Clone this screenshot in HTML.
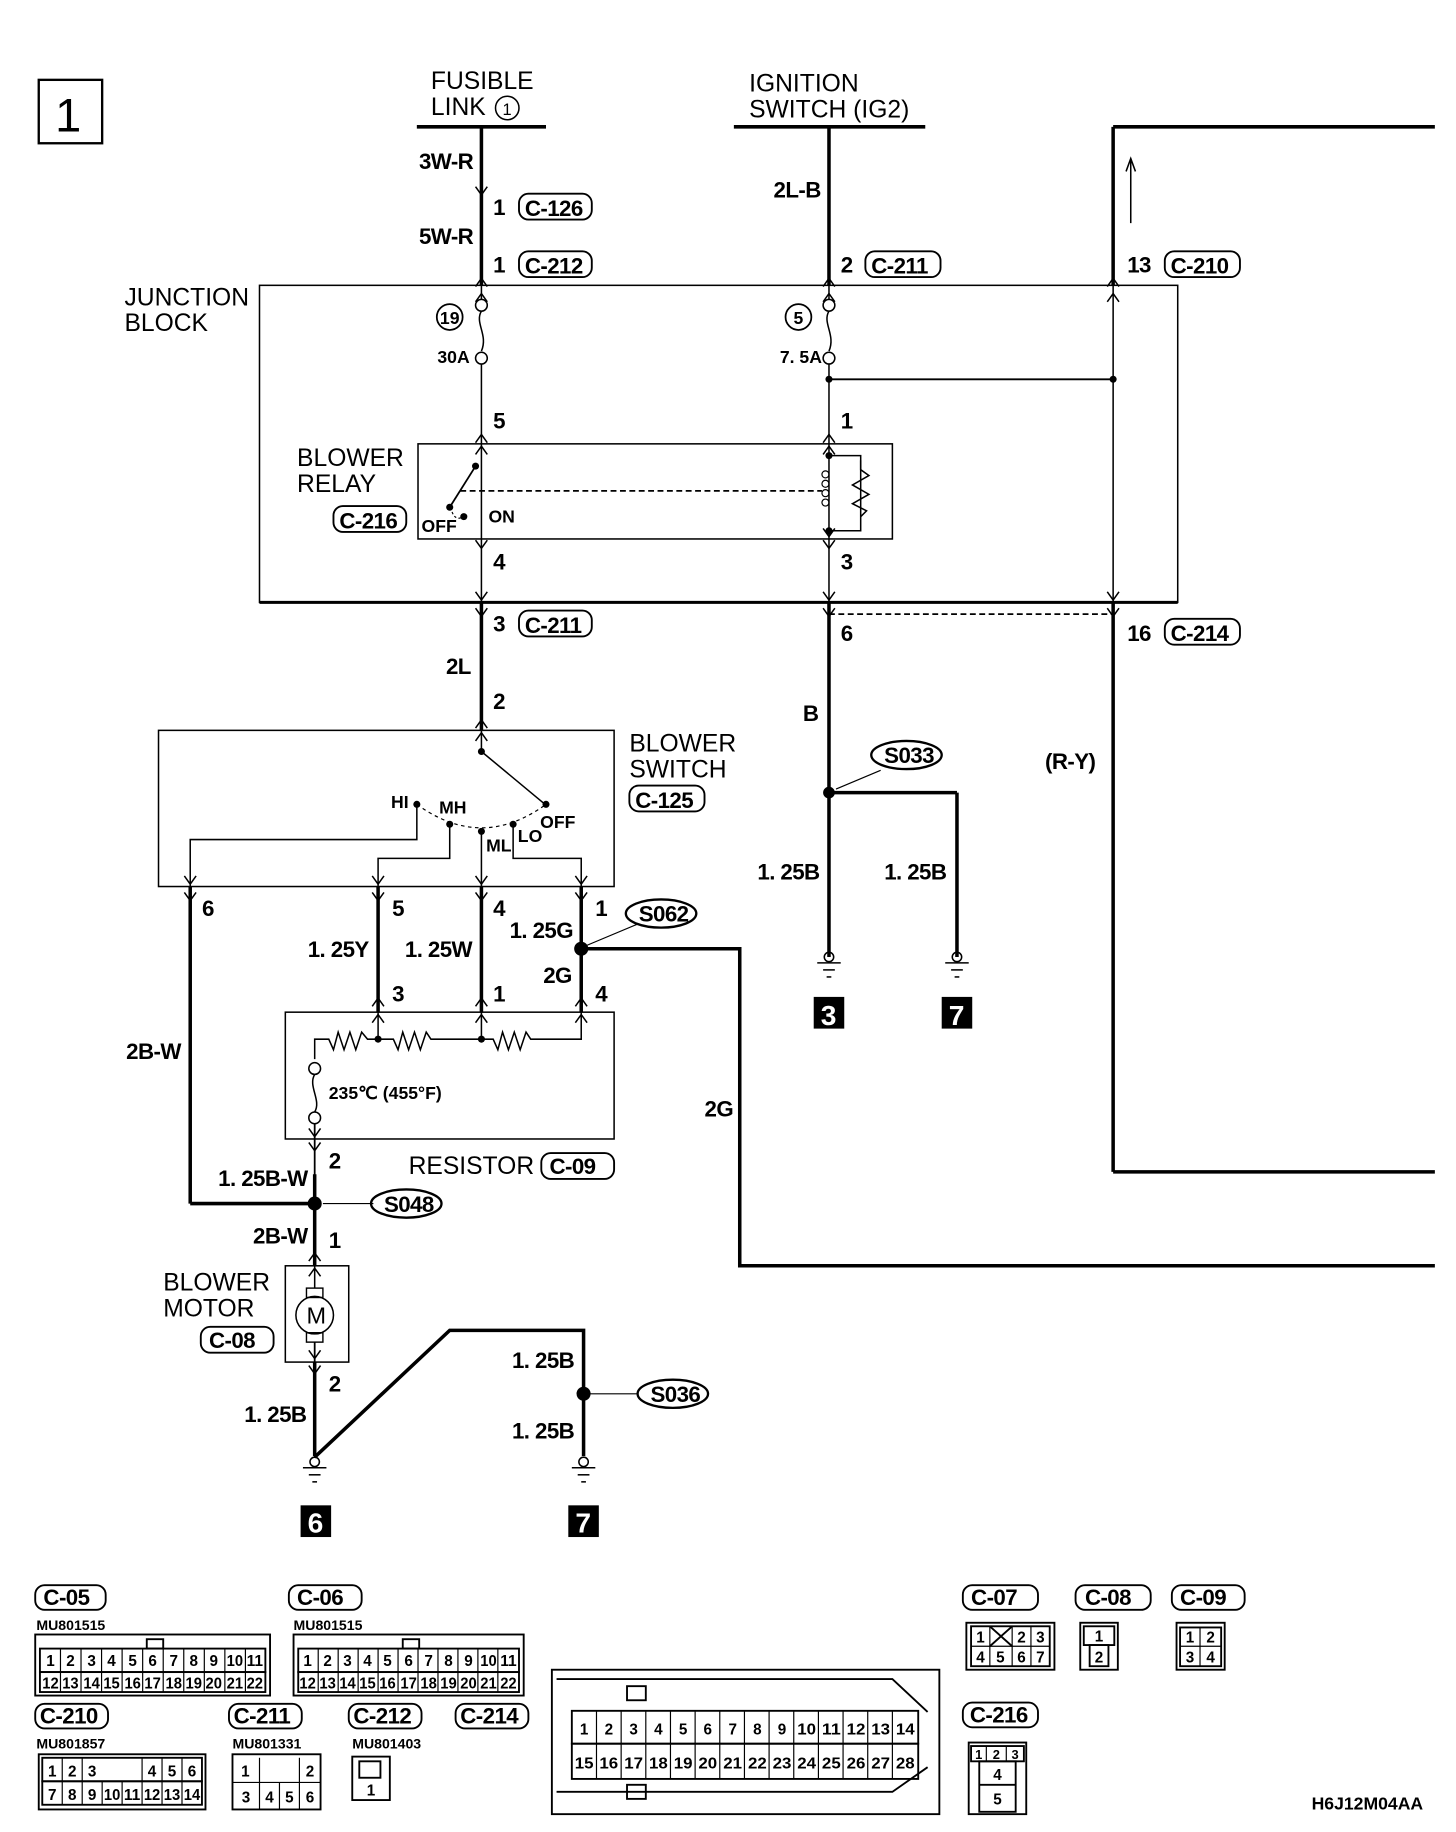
<!DOCTYPE html>
<html><head><meta charset="utf-8">
<style>
html,body{margin:0;padding:0;background:#fff;}
svg{display:block;}
text{font-family:"Liberation Sans Narrow","Liberation Sans",sans-serif;fill:#000;}
.b{font-weight:bold;font-size:19px;letter-spacing:-0.5px;}
.n{font-size:21px;}
.s{font-weight:bold;font-size:12px;}
.k{font-weight:bold;font-size:13px;text-anchor:middle;}
.c{font-weight:bold;font-size:15px;}
.e{text-anchor:end;}
</style></head><body>
<svg width="1456" height="1832" viewBox="0 0 1240 1560.2" preserveAspectRatio="none" xmlns="http://www.w3.org/2000/svg">
<defs>
<path id="dn" d="M-5,-7 L0,0 L5,-7" fill="none" stroke="#000" stroke-width="1.3"/>
<path id="up" d="M-5,7 L0,0 L5,7" fill="none" stroke="#000" stroke-width="1.3"/>
</defs>
<g fill="none" stroke="#000">
<rect x="33" y="68" width="54" height="54" stroke-width="2"/>
<line x1="355" y1="108" x2="465" y2="108" stroke-width="3"/>
<line x1="625" y1="108" x2="788" y2="108" stroke-width="3"/>
<line x1="948" y1="108" x2="1222" y2="108" stroke-width="3"/>
<line x1="410" y1="108" x2="410" y2="243" stroke-width="3"/>
<line x1="410" y1="243" x2="410" y2="255" stroke-width="1.3"/>
<path d="M410,265 C404,275 416,285 410,299" stroke-width="1.3"/>
<line x1="410" y1="310" x2="410" y2="513" stroke-width="1.3"/>
<circle cx="410" cy="260" r="5" stroke-width="1.3"/>
<circle cx="410" cy="305" r="5" stroke-width="1.3"/>
<circle cx="383" cy="270" r="11" stroke-width="1.5"/>
<line x1="706" y1="108" x2="706" y2="243" stroke-width="3"/>
<line x1="706" y1="243" x2="706" y2="255" stroke-width="1.3"/>
<path d="M706,265 C700,275 712,285 706,299" stroke-width="1.3"/>
<line x1="706" y1="310" x2="706" y2="513" stroke-width="1.3"/>
<circle cx="706" cy="260" r="5" stroke-width="1.3"/>
<circle cx="706" cy="305" r="5" stroke-width="1.3"/>
<circle cx="680" cy="270" r="11" stroke-width="1.5"/>
<line x1="706" y1="323" x2="948" y2="323" stroke-width="1.6"/>
<line x1="948" y1="108" x2="948" y2="243" stroke-width="3"/>
<line x1="948" y1="243" x2="948" y2="513" stroke-width="1.3"/>
<line x1="948" y1="513" x2="948" y2="998" stroke-width="3"/>
<line x1="948" y1="998" x2="1222" y2="998" stroke-width="3"/>
<line x1="963" y1="190" x2="963" y2="135" stroke-width="1.3"/>
<path d="M959,146 L963,135 L967,146" stroke-width="1.3"/>
<rect x="221" y="243" width="782" height="270" stroke-width="1.3"/>
<line x1="221" y1="513" x2="1003" y2="513" stroke-width="2.5"/>
<rect x="356" y="378" width="404" height="81" stroke-width="1.3"/>
<line x1="405" y1="397" x2="383" y2="432" stroke-width="1.5"/>
<path d="M385,436 Q388,444 395,440" stroke-width="1" stroke-dasharray="2,2"/>
<line x1="392" y1="418" x2="700" y2="418" stroke-width="1.5" stroke-dasharray="5,3"/>
<path d="M706,388 L733,388 L733,452 L706,452" stroke-width="1.3"/>
<path d="M733,392 L733,400 L740,405 L726,413 L740,421 L726,429 L738,435 L733,440" stroke-width="1.3"/>
<circle cx="703" cy="404" r="3" stroke-width="1"/>
<circle cx="703" cy="412" r="3" stroke-width="1"/>
<circle cx="703" cy="420" r="3" stroke-width="1"/>
<circle cx="703" cy="428" r="3" stroke-width="1"/>
<line x1="706" y1="513" x2="706" y2="815" stroke-width="3"/>
<line x1="706" y1="523" x2="948" y2="523" stroke-width="1.5" stroke-dasharray="5,3"/>
<line x1="706" y1="675" x2="815" y2="675" stroke-width="3"/>
<line x1="815" y1="675" x2="815" y2="815" stroke-width="3"/>
<line x1="750" y1="656" x2="712" y2="672" stroke-width="1"/>
<line x1="410" y1="513" x2="410" y2="622" stroke-width="3"/>
<rect x="135" y="622" width="388" height="133" stroke-width="1.3"/>
<line x1="410" y1="622" x2="410" y2="640" stroke-width="1.3"/>
<line x1="410" y1="640" x2="463" y2="684" stroke-width="1.3"/>
<path d="M355,685 Q410,725 465,685" stroke-width="1" stroke-dasharray="3,3"/>
<path d="M355,685 L355,715 L162,715 L162,755" stroke-width="1.3"/>
<path d="M383,702 L383,731 L322,731 L322,755" stroke-width="1.3"/>
<path d="M410,708 L410,755" stroke-width="1.3"/>
<path d="M437,702 L437,731 L495,731 L495,755" stroke-width="1.3"/>
<line x1="162" y1="755" x2="162" y2="1025" stroke-width="3"/>
<line x1="162" y1="1025" x2="268" y2="1025" stroke-width="3"/>
<line x1="322" y1="755" x2="322" y2="862" stroke-width="3"/>
<line x1="410" y1="755" x2="410" y2="862" stroke-width="3"/>
<line x1="495" y1="755" x2="495" y2="862" stroke-width="3"/>
<path d="M495,808 L630,808 L630,1078 L1222,1078" stroke-width="3"/>
<line x1="543" y1="787" x2="500" y2="805" stroke-width="1"/>
<rect x="243" y="862" width="280" height="108" stroke-width="1.3"/>
<path d="M268,902 L268,885 L280,885 L284,894 L288,879 L293,894 L298,879 L303,894 L308,879 L313,885 L335,885 L339,894 L343,879 L348,894 L353,879 L358,894 L363,879 L367,885 L420,885 L424,894 L428,879 L433,894 L438,879 L443,894 L448,879 L452,885 L495,885 L495,862" stroke-width="1.3"/>
<line x1="322" y1="862" x2="322" y2="885" stroke-width="1.3"/>
<line x1="410" y1="862" x2="410" y2="885" stroke-width="1.3"/>
<circle cx="268" cy="910" r="5" stroke-width="1.3"/>
<circle cx="268" cy="952" r="5" stroke-width="1.3"/>
<path d="M268,915 C262,925 274,937 268,947" stroke-width="1.3"/>
<line x1="268" y1="957" x2="268" y2="1078" stroke-width="1.5"/>
<line x1="268" y1="1000" x2="268" y2="1078" stroke-width="3"/>
<line x1="318" y1="1025" x2="275" y2="1025" stroke-width="1"/>
<rect x="243" y="1078" width="54" height="82" stroke-width="1.3"/>
<circle cx="268" cy="1120" r="16" stroke-width="1.3"/>
<rect x="261" y="1097" width="14" height="8" stroke-width="1.2"/>
<rect x="261" y="1135" width="14" height="8" stroke-width="1.2"/>
<line x1="268" y1="1078" x2="268" y2="1097" stroke-width="1.3"/>
<line x1="268" y1="1143" x2="268" y2="1240" stroke-width="1.5"/>
<line x1="268" y1="1160" x2="268" y2="1240" stroke-width="3"/>
<path d="M268,1241 L383,1133 L497,1133 L497,1240" stroke-width="3"/>
<line x1="543" y1="1187" x2="502" y2="1187" stroke-width="1"/>
<g stroke-width="1.3">
<circle cx="706" cy="815" r="4"/><line x1="696" y1="820" x2="716" y2="820"/><line x1="701" y1="826" x2="711" y2="826"/><line x1="704" y1="832" x2="708" y2="832"/>
<circle cx="815" cy="815" r="4"/><line x1="805" y1="820" x2="825" y2="820"/><line x1="810" y1="826" x2="820" y2="826"/><line x1="813" y1="832" x2="817" y2="832"/>
<circle cx="268" cy="1245" r="4"/><line x1="258" y1="1250" x2="278" y2="1250"/><line x1="263" y1="1256" x2="273" y2="1256"/><line x1="266" y1="1262" x2="270" y2="1262"/>
<circle cx="497" cy="1245" r="4"/><line x1="487" y1="1250" x2="507" y2="1250"/><line x1="492" y1="1256" x2="502" y2="1256"/><line x1="495" y1="1262" x2="499" y2="1262"/>
</g>
<ellipse cx="772" cy="643" rx="30" ry="12" stroke-width="2"/>
<ellipse cx="563" cy="778" rx="30" ry="12" stroke-width="2"/>
<ellipse cx="346" cy="1025" rx="30" ry="12" stroke-width="2"/>
<ellipse cx="573" cy="1187" rx="30" ry="12" stroke-width="2"/>
<g stroke-width="1.6">
<rect x="442" y="165" width="62" height="22" rx="8"/>
<rect x="442" y="214" width="62" height="22" rx="8"/>
<rect x="737" y="214" width="64" height="22" rx="8"/>
<rect x="992" y="214" width="64" height="22" rx="8"/>
<rect x="284" y="431" width="62" height="22" rx="8"/>
<rect x="442" y="520" width="62" height="22" rx="8"/>
<rect x="992" y="527" width="64" height="22" rx="8"/>
<rect x="536" y="669" width="64" height="22" rx="8"/>
<rect x="461" y="982" width="62" height="22" rx="8"/>
<rect x="171" y="1130" width="62" height="22" rx="8"/>
</g>
</g>
<use href="#dn" x="410" y="166"/>
<use href="#up" x="410" y="237"/><use href="#up" x="410" y="250"/>
<use href="#up" x="410" y="370"/><use href="#up" x="410" y="380"/>
<use href="#dn" x="410" y="467"/><use href="#dn" x="410" y="511"/><use href="#dn" x="410" y="525"/>
<use href="#up" x="410" y="613"/><use href="#up" x="410" y="624"/>
<use href="#up" x="706" y="237"/><use href="#up" x="706" y="250"/>
<use href="#up" x="706" y="370"/><use href="#up" x="706" y="380"/>
<use href="#dn" x="706" y="457"/><use href="#dn" x="706" y="467"/><use href="#dn" x="706" y="511"/><use href="#dn" x="706" y="525"/>
<use href="#up" x="948" y="237"/><use href="#up" x="948" y="250"/>
<use href="#dn" x="948" y="511"/><use href="#dn" x="948" y="525"/>
<use href="#dn" x="162" y="753"/><use href="#dn" x="162" y="767"/>
<use href="#dn" x="322" y="753"/><use href="#dn" x="322" y="767"/>
<use href="#dn" x="410" y="753"/><use href="#dn" x="410" y="767"/>
<use href="#dn" x="495" y="753"/><use href="#dn" x="495" y="767"/>
<use href="#up" x="322" y="850"/><use href="#up" x="322" y="864"/>
<use href="#up" x="410" y="850"/><use href="#up" x="410" y="864"/>
<use href="#up" x="495" y="850"/><use href="#up" x="495" y="864"/>
<use href="#dn" x="268" y="968"/><use href="#dn" x="268" y="980"/>
<use href="#up" x="268" y="1067"/><use href="#up" x="268" y="1080"/>
<use href="#dn" x="268" y="1157"/><use href="#dn" x="268" y="1170"/>
<g fill="#000">
<circle cx="706" cy="323" r="3"/><circle cx="948" cy="323" r="3"/>
<circle cx="405" cy="397" r="3"/><circle cx="383" cy="432" r="3"/><circle cx="395" cy="440" r="3"/>
<circle cx="706" cy="388" r="3"/><circle cx="706" cy="452" r="3"/>
<circle cx="706" cy="675" r="5"/><circle cx="495" cy="808" r="6"/><circle cx="268" cy="1025" r="6"/><circle cx="497" cy="1187" r="6"/>
<circle cx="410" cy="640" r="3"/><circle cx="355" cy="685" r="3"/><circle cx="383" cy="702" r="3"/><circle cx="410" cy="708" r="3"/><circle cx="437" cy="702" r="3"/><circle cx="465" cy="685" r="3"/>
<circle cx="322" cy="885" r="3"/><circle cx="410" cy="885" r="3"/>
<rect x="693" y="849" width="26" height="27"/><rect x="802" y="849" width="26" height="27"/>
<rect x="256" y="1282" width="26" height="27"/><rect x="484" y="1282" width="26" height="27"/>
</g>
<text x="699" y="873" style="font:bold 24px 'Liberation Sans';fill:#fff">3</text>
<text x="808" y="873" style="font:bold 24px 'Liberation Sans';fill:#fff">7</text>
<text x="262" y="1305" style="font:bold 24px 'Liberation Sans';fill:#fff">6</text>
<text x="490" y="1305" style="font:bold 24px 'Liberation Sans';fill:#fff">7</text>
<text x="47" y="112" style="font-size:40px;font-family:'Liberation Sans'">1</text>
<text class="n" x="367" y="76">FUSIBLE</text>
<text class="n" x="367" y="98">LINK</text>
<circle cx="432" cy="92" r="10" fill="none" stroke="#000" stroke-width="1.3"/>
<text x="428" y="98" style="font-size:14px">1</text>
<text class="n" x="638" y="78">IGNITION</text>
<text class="n" x="638" y="100">SWITCH (IG2)</text>
<text class="b e" x="403" y="144">3W-R</text>
<text class="b" x="420" y="183">1</text><text class="b" x="447" y="184">C-126</text>
<text class="b e" x="403" y="208">5W-R</text>
<text class="b" x="420" y="232">1</text><text class="b" x="447" y="233">C-212</text>
<text class="b e" x="699" y="168">2L-B</text>
<text class="b" x="716" y="232">2</text><text class="b" x="742" y="233">C-211</text>
<text class="b" x="960" y="232">13</text><text class="b" x="997" y="233">C-210</text>
<text class="n" x="106" y="260">JUNCTION</text>
<text class="n" x="106" y="282">BLOCK</text>
<text x="383" y="276" style="font-size:15px;font-weight:bold;text-anchor:middle">19</text>
<text x="680" y="276" style="font-size:15px;font-weight:bold;text-anchor:middle">5</text>
<text class="c e" x="400" y="309">30A</text>
<text class="c e" x="700" y="309">7. 5A</text>
<text class="b" x="420" y="365">5</text><text class="b" x="716" y="365">1</text>
<text class="n" x="253" y="397">BLOWER</text>
<text class="n" x="253" y="419">RELAY</text>
<text class="b" x="289" y="450">C-216</text>
<text class="c" x="359" y="453">OFF</text><text class="c" x="416" y="445">ON</text>
<text class="b" x="420" y="485">4</text><text class="b" x="716" y="485">3</text>
<text class="b" x="420" y="538">3</text><text class="b" x="447" y="539">C-211</text>
<text class="b" x="716" y="546">6</text>
<text class="b" x="960" y="546">16</text><text class="b" x="997" y="546">C-214</text>
<text class="b e" x="401" y="574">2L</text>
<text class="b" x="420" y="604">2</text>
<text class="b e" x="697" y="614">B</text>
<text class="b" x="753" y="650">S033</text>
<text class="b" x="890" y="655">(R-Y)</text>
<text class="n" x="536" y="640">BLOWER</text>
<text class="n" x="536" y="662">SWITCH</text>
<text class="b" x="541" y="688">C-125</text>
<text class="c" x="333" y="688">HI</text><text class="c" x="374" y="693">MH</text>
<text class="c" x="414" y="725">ML</text><text class="c" x="441" y="717">LO</text><text class="c" x="460" y="705">OFF</text>
<text class="b e" x="698" y="749">1. 25B</text><text class="b e" x="806" y="749">1. 25B</text>
<text class="b" x="172" y="780">6</text><text class="b" x="334" y="780">5</text><text class="b" x="420" y="780">4</text><text class="b" x="507" y="780">1</text>
<text class="b" x="544" y="785">S062</text>
<text class="b e" x="488" y="799">1. 25G</text>
<text class="b e" x="314" y="815">1. 25Y</text><text class="b e" x="402" y="815">1. 25W</text>
<text class="b e" x="487" y="837">2G</text>
<text class="b" x="334" y="853">3</text><text class="b" x="420" y="853">1</text><text class="b" x="507" y="853">4</text>
<text class="b e" x="154" y="902">2B-W</text>
<text class="c" x="280" y="936">235℃ (455°F)</text>
<text class="b" x="600" y="951">2G</text>
<text class="b" x="280" y="995">2</text>
<text class="n" x="348" y="1000">RESISTOR</text>
<text class="b" x="468" y="1000">C-09</text>
<text class="b e" x="262" y="1010">1. 25B-W</text>
<text class="b" x="327" y="1032">S048</text>
<text class="b e" x="262" y="1059">2B-W</text>
<text class="b" x="280" y="1063">1</text>
<text class="n" x="139" y="1099">BLOWER</text>
<text class="n" x="139" y="1121">MOTOR</text>
<text x="261" y="1127" style="font-size:20px">M</text>
<text class="b" x="178" y="1148">C-08</text>
<text class="b" x="280" y="1185">2</text>
<text class="b e" x="489" y="1165">1. 25B</text>
<text class="b" x="554" y="1194">S036</text>
<text class="b e" x="261" y="1211">1. 25B</text>
<text class="b e" x="489" y="1225">1. 25B</text>
<g fill="none" stroke="#000" stroke-width="1.6">
<rect x="30" y="1350" width="60" height="21" rx="8"/>
<rect x="246" y="1350" width="62" height="21" rx="8"/>
<rect x="30" y="1451" width="62" height="21" rx="8"/>
<rect x="195" y="1451" width="62" height="21" rx="8"/>
<rect x="297" y="1451" width="62" height="21" rx="8"/>
<rect x="388" y="1451" width="62" height="21" rx="8"/>
<rect x="820" y="1350" width="64" height="21" rx="8"/>
<rect x="916" y="1350" width="64" height="21" rx="8"/>
<rect x="998" y="1350" width="62" height="21" rx="8"/>
<rect x="820" y="1450" width="64" height="21" rx="8"/>
<rect x="30" y="1392" width="200" height="52"/>
<rect x="34" y="1404" width="192" height="20"/><rect x="34" y="1424" width="192" height="17"/>
<rect x="125" y="1396" width="14" height="8"/>
<rect x="250" y="1392" width="196" height="52"/>
<rect x="254" y="1404" width="188" height="20"/><rect x="254" y="1424" width="188" height="17"/>
<rect x="343" y="1396" width="14" height="8"/>
<rect x="33" y="1494" width="142" height="47"/>
<rect x="36" y="1497" width="136" height="20"/><rect x="36" y="1517" width="136" height="20"/>
<rect x="198" y="1494" width="75" height="47"/>
<rect x="300" y="1496" width="32" height="37"/><rect x="306" y="1500" width="18" height="14"/>
<rect x="470" y="1422" width="330" height="123"/>
<rect x="487" y="1457" width="295" height="28"/><rect x="487" y="1485" width="295" height="30"/>
<path d="M474,1430 L760,1430 L790,1458 M474,1526 L760,1526 L790,1505"/>
<rect x="534" y="1436" width="16" height="12"/><rect x="534" y="1520" width="16" height="12"/>
<rect x="823" y="1382" width="75" height="40"/><rect x="827" y="1385" width="67" height="34"/>
<line x1="843" y1="1385" x2="862" y2="1402"/><line x1="862" y1="1385" x2="843" y2="1402"/>
<rect x="920" y="1382" width="32" height="40"/><rect x="923" y="1385" width="26" height="16"/><rect x="928" y="1401" width="16" height="18"/>
<rect x="1002" y="1382" width="41" height="40"/><rect x="1005" y="1386" width="35" height="33"/>
<rect x="825" y="1484" width="49" height="61"/><rect x="827" y="1487" width="45" height="13"/><rect x="834" y="1500" width="31" height="43"/>
<line x1="834" y1="1520" x2="865" y2="1520"/>
</g>
<g stroke="#000" stroke-width="1">
<line x1="51.5" y1="1404" x2="51.5" y2="1441"/><line x1="69" y1="1404" x2="69" y2="1441"/><line x1="86.5" y1="1404" x2="86.5" y2="1441"/><line x1="104" y1="1404" x2="104" y2="1441"/><line x1="121.5" y1="1404" x2="121.5" y2="1441"/><line x1="139" y1="1404" x2="139" y2="1441"/><line x1="156.5" y1="1404" x2="156.5" y2="1441"/><line x1="174" y1="1404" x2="174" y2="1441"/><line x1="191.5" y1="1404" x2="191.5" y2="1441"/><line x1="209" y1="1404" x2="209" y2="1441"/>
<line x1="271" y1="1404" x2="271" y2="1441"/><line x1="288" y1="1404" x2="288" y2="1441"/><line x1="305" y1="1404" x2="305" y2="1441"/><line x1="322" y1="1404" x2="322" y2="1441"/><line x1="339" y1="1404" x2="339" y2="1441"/><line x1="356" y1="1404" x2="356" y2="1441"/><line x1="373" y1="1404" x2="373" y2="1441"/><line x1="390" y1="1404" x2="390" y2="1441"/><line x1="407" y1="1404" x2="407" y2="1441"/><line x1="424" y1="1404" x2="424" y2="1441"/>
<line x1="53" y1="1497" x2="53" y2="1537"/><line x1="70" y1="1497" x2="70" y2="1537"/><line x1="87" y1="1517" x2="87" y2="1537"/><line x1="104" y1="1517" x2="104" y2="1537"/><line x1="121" y1="1497" x2="121" y2="1537"/><line x1="138" y1="1497" x2="138" y2="1537"/><line x1="155" y1="1497" x2="155" y2="1537"/>
<line x1="198" y1="1518" x2="273" y2="1518"/><line x1="221" y1="1497" x2="221" y2="1541"/><line x1="238" y1="1518" x2="238" y2="1541"/><line x1="255" y1="1497" x2="255" y2="1541"/>
<line x1="508" y1="1457" x2="508" y2="1515"/><line x1="529" y1="1457" x2="529" y2="1515"/><line x1="550" y1="1457" x2="550" y2="1515"/><line x1="571" y1="1457" x2="571" y2="1515"/><line x1="592" y1="1457" x2="592" y2="1515"/><line x1="613" y1="1457" x2="613" y2="1515"/><line x1="634" y1="1457" x2="634" y2="1515"/><line x1="655" y1="1457" x2="655" y2="1515"/><line x1="676" y1="1457" x2="676" y2="1515"/><line x1="697" y1="1457" x2="697" y2="1515"/><line x1="718" y1="1457" x2="718" y2="1515"/><line x1="739" y1="1457" x2="739" y2="1515"/><line x1="760" y1="1457" x2="760" y2="1515"/>
<line x1="827" y1="1402" x2="894" y2="1402"/><line x1="843" y1="1385" x2="843" y2="1419"/><line x1="862" y1="1385" x2="862" y2="1419"/><line x1="878" y1="1385" x2="878" y2="1419"/>
<line x1="1005" y1="1402" x2="1040" y2="1402"/><line x1="1022" y1="1386" x2="1022" y2="1419"/>
<line x1="840" y1="1487" x2="840" y2="1500"/><line x1="857" y1="1487" x2="857" y2="1500"/>
</g>
<text class="b" x="37" y="1367">C-05</text><text class="b" x="253" y="1367">C-06</text>
<text class="s" x="31" y="1388">MU801515</text><text class="s" x="250" y="1388">MU801515</text>
<text class="b" x="34" y="1468">C-210</text><text class="b" x="199" y="1468">C-211</text><text class="b" x="301" y="1468">C-212</text><text class="b" x="392" y="1468">C-214</text>
<text class="s" x="31" y="1489">MU801857</text><text class="s" x="198" y="1489">MU801331</text><text class="s" x="300" y="1489">MU801403</text>
<text class="b" x="827" y="1367">C-07</text><text class="b" x="924" y="1367">C-08</text><text class="b" x="1005" y="1367">C-09</text><text class="b" x="826" y="1467">C-216</text>
<g class="k">
<text x="43" y="1419">1</text><text x="60" y="1419">2</text><text x="78" y="1419">3</text><text x="95" y="1419">4</text><text x="113" y="1419">5</text><text x="130" y="1419">6</text><text x="148" y="1419">7</text><text x="165" y="1419">8</text><text x="182" y="1419">9</text><text x="200" y="1419" textLength="14" lengthAdjust="spacingAndGlyphs">10</text><text x="217" y="1419" textLength="14" lengthAdjust="spacingAndGlyphs">11</text>
<text x="43" y="1438" textLength="14" lengthAdjust="spacingAndGlyphs">12</text><text x="60" y="1438" textLength="14" lengthAdjust="spacingAndGlyphs">13</text><text x="78" y="1438" textLength="14" lengthAdjust="spacingAndGlyphs">14</text><text x="95" y="1438" textLength="14" lengthAdjust="spacingAndGlyphs">15</text><text x="113" y="1438" textLength="14" lengthAdjust="spacingAndGlyphs">16</text><text x="130" y="1438" textLength="14" lengthAdjust="spacingAndGlyphs">17</text><text x="148" y="1438" textLength="14" lengthAdjust="spacingAndGlyphs">18</text><text x="165" y="1438" textLength="14" lengthAdjust="spacingAndGlyphs">19</text><text x="182" y="1438" textLength="14" lengthAdjust="spacingAndGlyphs">20</text><text x="200" y="1438" textLength="14" lengthAdjust="spacingAndGlyphs">21</text><text x="217" y="1438" textLength="14" lengthAdjust="spacingAndGlyphs">22</text>
<text x="262" y="1419">1</text><text x="279" y="1419">2</text><text x="296" y="1419">3</text><text x="313" y="1419">4</text><text x="330" y="1419">5</text><text x="348" y="1419">6</text><text x="365" y="1419">7</text><text x="382" y="1419">8</text><text x="399" y="1419">9</text><text x="416" y="1419" textLength="14" lengthAdjust="spacingAndGlyphs">10</text><text x="433" y="1419" textLength="14" lengthAdjust="spacingAndGlyphs">11</text>
<text x="262" y="1438" textLength="14" lengthAdjust="spacingAndGlyphs">12</text><text x="279" y="1438" textLength="14" lengthAdjust="spacingAndGlyphs">13</text><text x="296" y="1438" textLength="14" lengthAdjust="spacingAndGlyphs">14</text><text x="313" y="1438" textLength="14" lengthAdjust="spacingAndGlyphs">15</text><text x="330" y="1438" textLength="14" lengthAdjust="spacingAndGlyphs">16</text><text x="348" y="1438" textLength="14" lengthAdjust="spacingAndGlyphs">17</text><text x="365" y="1438" textLength="14" lengthAdjust="spacingAndGlyphs">18</text><text x="382" y="1438" textLength="14" lengthAdjust="spacingAndGlyphs">19</text><text x="399" y="1438" textLength="14" lengthAdjust="spacingAndGlyphs">20</text><text x="416" y="1438" textLength="14" lengthAdjust="spacingAndGlyphs">21</text><text x="433" y="1438" textLength="14" lengthAdjust="spacingAndGlyphs">22</text>
<text x="44.5" y="1513">1</text><text x="61.5" y="1513">2</text><text x="78.5" y="1513">3</text><text x="129.5" y="1513">4</text><text x="146.5" y="1513">5</text><text x="163.5" y="1513">6</text>
<text x="44.5" y="1533">7</text><text x="61.5" y="1533">8</text><text x="78.5" y="1533">9</text><text x="95.5" y="1533" textLength="14" lengthAdjust="spacingAndGlyphs">10</text><text x="112.5" y="1533" textLength="14" lengthAdjust="spacingAndGlyphs">11</text><text x="129.5" y="1533" textLength="14" lengthAdjust="spacingAndGlyphs">12</text><text x="146.5" y="1533" textLength="14" lengthAdjust="spacingAndGlyphs">13</text><text x="163.5" y="1533" textLength="14" lengthAdjust="spacingAndGlyphs">14</text>
<text x="209" y="1513">1</text><text x="264" y="1513">2</text>
<text x="209.5" y="1535">3</text><text x="229.5" y="1535">4</text><text x="246.5" y="1535">5</text><text x="264" y="1535">6</text>
<text x="316" y="1529">1</text>
<text x="497.5" y="1477">1</text><text x="518.5" y="1477">2</text><text x="539.6" y="1477">3</text><text x="560.7" y="1477">4</text><text x="581.8" y="1477">5</text><text x="602.8" y="1477">6</text><text x="624" y="1477">7</text><text x="645" y="1477">8</text><text x="666" y="1477">9</text><text x="687" y="1477" textLength="16" lengthAdjust="spacingAndGlyphs">10</text><text x="708" y="1477" textLength="16" lengthAdjust="spacingAndGlyphs">11</text><text x="729" y="1477" textLength="16" lengthAdjust="spacingAndGlyphs">12</text><text x="750" y="1477" textLength="16" lengthAdjust="spacingAndGlyphs">13</text><text x="771" y="1477" textLength="16" lengthAdjust="spacingAndGlyphs">14</text>
<text x="497.5" y="1506" textLength="16" lengthAdjust="spacingAndGlyphs">15</text><text x="518.5" y="1506" textLength="16" lengthAdjust="spacingAndGlyphs">16</text><text x="539.6" y="1506" textLength="16" lengthAdjust="spacingAndGlyphs">17</text><text x="560.7" y="1506" textLength="16" lengthAdjust="spacingAndGlyphs">18</text><text x="581.8" y="1506" textLength="16" lengthAdjust="spacingAndGlyphs">19</text><text x="602.8" y="1506" textLength="16" lengthAdjust="spacingAndGlyphs">20</text><text x="624" y="1506" textLength="16" lengthAdjust="spacingAndGlyphs">21</text><text x="645" y="1506" textLength="16" lengthAdjust="spacingAndGlyphs">22</text><text x="666" y="1506" textLength="16" lengthAdjust="spacingAndGlyphs">23</text><text x="687" y="1506" textLength="16" lengthAdjust="spacingAndGlyphs">24</text><text x="708" y="1506" textLength="16" lengthAdjust="spacingAndGlyphs">25</text><text x="729" y="1506" textLength="16" lengthAdjust="spacingAndGlyphs">26</text><text x="750" y="1506" textLength="16" lengthAdjust="spacingAndGlyphs">27</text><text x="771" y="1506" textLength="16" lengthAdjust="spacingAndGlyphs">28</text>
<text x="835" y="1399">1</text><text x="870" y="1399">2</text><text x="886" y="1399">3</text>
<text x="835" y="1416">4</text><text x="852" y="1416">5</text><text x="870" y="1416">6</text><text x="886" y="1416">7</text>
<text x="936" y="1398">1</text><text x="936" y="1416">2</text>
<text x="1013.5" y="1399">1</text><text x="1031" y="1399">2</text><text x="1013.5" y="1416">3</text><text x="1031" y="1416">4</text>
<text x="833.5" y="1498" style="font-size:11px">1</text><text x="848.5" y="1498" style="font-size:11px">2</text><text x="864.5" y="1498" style="font-size:11px">3</text>
<text x="849.5" y="1516">4</text><text x="849.5" y="1537">5</text>
</g>
<text class="s" x="1117" y="1541" style="font-size:15px">H6J12M04AA</text>
</svg>
</body></html>
